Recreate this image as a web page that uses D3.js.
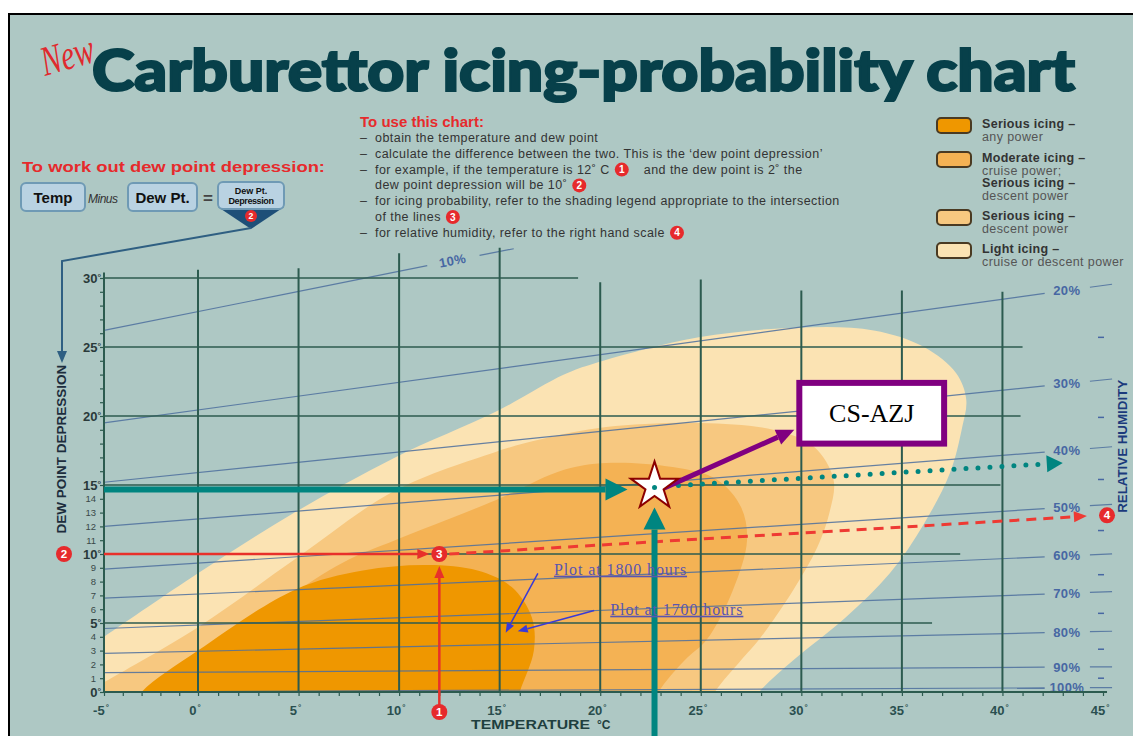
<!DOCTYPE html>
<html>
<head>
<meta charset="utf-8">
<script src="https://d3js.org/d3.v7.min.js"></script>
<style>
  body { margin: 0; background: #fff; }
  svg { display: block; }
  text { font-family: "Liberation Sans", Arial, sans-serif; }
</style>
</head>
<body>
<div id="chart"></div>
<script>
// axis values
var xTicks = [-5, 0, 5, 10, 15, 20, 25, 30, 35, 40, 45];
var yMajor = [0, 5, 10, 15, 20, 25, 30];
var yMinor = [1, 2, 3, 4, 6, 7, 8, 9, 11, 12, 13, 14];
var vGrid = [0, 5, 10, 15, 20, 25, 30, 35, 40];
var vGridTop = [30.6, 30.7, 31.8, 32.2, 29.7, 29.9, 29.1, 29.1, 29.0];
var hGridEnd = [45.2, 36.5, 37.9, 39.9, 40.9, 41.0, 18.9];

// relative humidity lines: dew point depression at -5C and at ~42C
var rhLabels = ["10%", "20%", "30%", "40%", "50%", "60%", "70%", "80%", "90%", "100%"];
var rhLeft  = [26.2, 19.5, 15.2, 12.0, 8.9, 6.8, 4.6, 2.8, 1.4, 0.0];
var rhRight = [39.7, 28.9, 22.2, 17.4, 13.3, 9.8, 7.1, 4.3, 1.8, 0.3];
var rhMinor = [25.7, 19.9, 15.4, 11.7, 8.5, 5.7, 3.1, 1.0];

// icing zones [temperature, dew point depression]
var lightIcing = [[-7,-2],[-7,2.2],[-5,4.0],[0,8.6],[4.8,13.0],[9.8,17.0],[14.8,20.3],[18.2,23.0],[19.7,23.8],[24.9,25.7],[29.8,26.4],[33.6,26.2],[36.1,25.0],[37.7,23.1],[38.2,21.2],[38.0,19.2],[37.4,15.9],[36.1,12.2],[34.4,8.6],[32.2,5.4],[29.6,2.3],[27.9,0],[27.0,-2]];
var seriousDescent = [[-7,-2],[-7,-0.9],[-5,0.7],[0,4.7],[4.8,9.6],[9.8,14.6],[14.8,17.4],[17.0,18.3],[20.3,19.2],[25.0,19.5],[28.6,19.0],[30.6,17.8],[31.6,15.4],[31.4,13.0],[30.8,10.5],[29.6,7.4],[27.9,3.8],[27.0,2.3],[25.7,0],[25.0,-2]];
var moderateCruise = [[-2.5,-2],[0,2.0],[4.8,7.2],[7.5,9.6],[9.8,11.0],[14.8,13.9],[18.2,16.1],[20.3,16.6],[23.6,16.3],[25.8,15.4],[27.0,13.4],[27.3,11.0],[26.6,7.4],[25.3,3.8],[24.2,2.3],[22.9,0],[22.3,-2]];
var seriousAny = [[-4.0,-2],[-3.0,0],[0,3.0],[4.8,7.4],[8.2,8.8],[11.4,9.2],[13.9,8.8],[15.6,7.6],[16.6,5.4],[16.7,3.0],[16.0,0],[15.6,-2]];

var zoneColors = ["#fbe3b3", "#f7c880", "#f4b254", "#ef9700"];

var legendColors = ["#ef9700", "#f4b254", "#f7c880", "#fbe3b3"];
var legendTop = [118, 152, 210, 243];
var legendText = [
  [["Serious icing \u2013", 1], ["any power", 0]],
  [["Moderate icing \u2013", 1], ["cruise power;", 0], ["Serious icing \u2013", 1], ["descent power", 0]],
  [["Serious icing \u2013", 1], ["descent power", 0]],
  [["Light icing \u2013", 1], ["cruise or descent power", 0]]
];

var howTo = [
  [true, ["obtain the temperature and dew point"]],
  [true, ["calculate the difference between the two. This is the \u2018dew point depression\u2019"]],
  [true, ["for example, if the temperature is 12\u02da C", 1, "and the dew point is 2\u02da the"]],
  [false, ["dew point depression will be 10\u02da", 2]],
  [true, ["for icing probability, refer to the shading legend appropriate to the intersection"]],
  [false, ["of the lines", 3]],
  [true, ["for relative humidity, refer to the right hand scale", 4]]
];

// worked example and plotted point
var exTemp = 12, exDep = 10, exEnd = [44.2, 12.75];
var starT = 22.7, starD = 14.9, dotEnd = [43.0, 16.6];
var boxT = [29.9, 37.1], boxD = [22.4, 18.0];

var width = 1133, height = 736;
var svg = d3.select("#chart").append("svg")
    .attr("width", width)
    .attr("height", height);

svg.append("rect")
    .attr("x", 9).attr("y", 14)
    .attr("width", 1130).attr("height", 730)
    .attr("fill", "#aec8c4")
    .attr("stroke", "#000").attr("stroke-width", 2);

var x = d3.scaleLinear().domain([-5, 0, 45]).range([104, 198, 1103]);
var y = d3.scaleLinear().domain([0, 30]).range([692, 278]);

function arrow(g, p0, p1, color, w, len, wid, dash) {
  var dx = p1[0] - p0[0], dy = p1[1] - p0[1], L = Math.hypot(dx, dy);
  var ux = dx / L, uy = dy / L;
  var bx = p1[0] - ux * len, by = p1[1] - uy * len;
  var ln = g.append("line")
      .attr("x1", p0[0]).attr("y1", p0[1]).attr("x2", bx).attr("y2", by)
      .attr("stroke", color).attr("stroke-width", w);
  if (dash) ln.attr("stroke-dasharray", dash).attr("stroke-linecap", dash[0] == "0" ? "round" : "butt");
  g.append("path")
      .attr("d", "M" + p1[0] + "," + p1[1] +
                 "L" + (bx - uy * wid / 2) + "," + (by + ux * wid / 2) +
                 "L" + (bx + uy * wid / 2) + "," + (by - ux * wid / 2) + "Z")
      .attr("fill", color);
}

function badge(g, cx, cy, r, n) {
  g.append("circle").attr("cx", cx).attr("cy", cy).attr("r", r).attr("fill", "#e62a2c");
  g.append("text").attr("x", cx).attr("y", cy + r * 0.5)
      .attr("text-anchor", "middle").attr("font-weight", "bold")
      .attr("font-size", r * 1.45).attr("fill", "#fff").text(n);
}

// title
svg.append("text")
    .attr("x", 92).attr("y", 91)
    .attr("textLength", 983).attr("lengthAdjust", "spacingAndGlyphs")
    .style("font-family", "Lato, 'DejaVu Sans', sans-serif")
    .attr("font-weight", 900).attr("font-size", 58)
    .attr("fill", "#07404a").attr("stroke", "#07404a").attr("stroke-width", 2.2)
    .text("Carburettor icing-probability chart");
svg.append("text")
    .attr("transform", "translate(45,76) rotate(-16)")
    .attr("textLength", 54).attr("lengthAdjust", "spacingAndGlyphs")
    .style("font-family", "'Liberation Serif', serif")
    .attr("font-style", "italic").attr("font-size", 42)
    .attr("fill", "#e02a2e")
    .text("New");

// dew point depression recipe
var rec = svg.append("g");
rec.append("text").attr("x", 22).attr("y", 172)
    .attr("textLength", 303).attr("lengthAdjust", "spacingAndGlyphs")
    .attr("font-weight", "bold").attr("font-size", 14).attr("fill", "#e62a2c")
    .text("To work out dew point depression:");
[[21, 64, "Temp"], [128, 69, "Dew Pt."]].forEach(function(b) {
  rec.append("rect").attr("x", b[0]).attr("y", 183).attr("width", b[1]).attr("height", 28)
      .attr("rx", 5).attr("fill", "#b9d2e2").attr("stroke", "#6f9ab5").attr("stroke-width", 2);
  rec.append("text").attr("x", b[0] + b[1] / 2).attr("y", 203).attr("text-anchor", "middle")
      .attr("font-weight", "bold").attr("font-size", 15).attr("fill", "#111").text(b[2]);
});
rec.append("text").attr("x", 88).attr("y", 203).attr("font-style", "italic")
    .attr("font-size", 12).attr("fill", "#333").attr("letter-spacing", -0.5).text("Minus");
rec.append("text").attr("x", 203).attr("y", 204).attr("font-weight", "bold")
    .attr("font-size", 17).attr("fill", "#444").text("=");
rec.append("path").attr("d", "M218,207L284,207L251,229Z").attr("fill", "#1e4f78");
rec.append("rect").attr("x", 218).attr("y", 182).attr("width", 66).attr("height", 27)
    .attr("rx", 5).attr("fill", "#b9d2e2").attr("stroke", "#6f9ab5").attr("stroke-width", 2);
rec.append("text").attr("x", 251).attr("y", 194).attr("text-anchor", "middle")
    .attr("font-weight", "bold").attr("font-size", 9).attr("fill", "#111").text("Dew Pt.");
rec.append("text").attr("x", 251).attr("y", 204).attr("text-anchor", "middle")
    .attr("font-weight", "bold").attr("font-size", 9).attr("letter-spacing", -0.4).attr("fill", "#111").text("Depression");
badge(rec, 251, 216, 6, 2);
rec.append("path").attr("d", "M251,228L62,261L62,352")
    .attr("fill", "none").attr("stroke", "#2f5f82").attr("stroke-width", 2);
arrow(rec, [62, 350], [62, 363], "#2f5f82", 2, 12, 10);

// how to use
var use = svg.append("g");
use.append("text").attr("x", 360).attr("y", 127)
    .attr("font-weight", "bold").attr("font-size", 15).attr("fill", "#e62a2c")
    .text("To use this chart:");
howTo.forEach(function(line, i) {
  var yy = 142 + i * 15.8, xx = 375;
  if (line[0]) use.append("text").attr("x", 360).attr("y", yy).attr("font-size", 12.5).attr("fill", "#333").text("\u2013");
  line[1].forEach(function(part) {
    if (typeof part === "number") {
      badge(use, xx + 12, yy - 4, 7, part);
      xx += 34;
    } else {
      var t = use.append("text").attr("x", xx).attr("y", yy)
          .attr("font-size", 12.5).attr("letter-spacing", 0.45)
          .attr("fill", "#333").text(part);
      xx += t.node().getComputedTextLength();
    }
  });
});

// legend
var leg = svg.append("g");
legendColors.forEach(function(c, i) {
  leg.append("rect").attr("x", 937).attr("y", legendTop[i]).attr("width", 34).attr("height", 15)
      .attr("rx", 4).attr("fill", c).attr("stroke", "#4a3a22").attr("stroke-width", 2);
  legendText[i].forEach(function(l, j) {
    leg.append("text").attr("x", 982).attr("y", legendTop[i] + 10 + j * 12.5)
        .attr("font-size", 12.5)
        .attr("letter-spacing", l[1] ? 0.3 : 0.4)
        .attr("font-weight", l[1] ? "bold" : "normal")
        .attr("fill", l[1] ? "#333" : "#555")
        .text(l[0]);
  });
});

// icing zones
svg.append("clipPath").attr("id", "plotclip")
  .append("rect").attr("x", x(-5)).attr("y", 230).attr("width", x(45.2) - x(-5)).attr("height", y(0) - 230);

var zone = d3.line()
    .x(function(d) { return x(d[0]); })
    .y(function(d) { return y(d[1]); })
    .curve(d3.curveCatmullRom.alpha(0.5));

svg.append("g").attr("clip-path", "url(#plotclip)")
  .selectAll("path")
  .data([lightIcing, seriousDescent, moderateCruise, seriousAny])
  .enter().append("path")
    .attr("d", function(d) { return zone(d) + "Z"; })
    .attr("fill", function(d, i) { return zoneColors[i]; });

// relative humidity lines
var rh = svg.append("g");
function rhD(i, t) { return rhLeft[i] + (rhRight[i] - rhLeft[i]) * (t + 5) / 47.2; }
rhLabels.forEach(function(lab, i) {
  var segs = i === 0 ? [[-5, 11.4], [14.0, 15.7]] : [[-5, 42.1], [44.35, 45.45]];
  segs.forEach(function(s) {
    rh.append("line")
        .attr("x1", x(s[0])).attr("y1", y(rhD(i, s[0])))
        .attr("x2", x(s[1])).attr("y2", y(rhD(i, s[1])))
        .attr("stroke", "#4d6f9e").attr("stroke-width", 1.2).attr("opacity", 0.85);
  });
  var lt = i === 0 ? 12.7 : 43.2;
  var ang = i === 0 ? Math.atan2(y(rhD(0, 15)) - y(rhD(0, 5)), x(15) - x(5)) * 180 / Math.PI : 0;
  rh.append("text")
      .attr("transform", "translate(" + x(lt) + "," + (y(rhD(i, lt)) + 4.5) + ") rotate(" + ang + ")")
      .attr("text-anchor", "middle")
      .attr("font-size", 13).attr("font-weight", "bold").attr("letter-spacing", 0.4)
      .attr("fill", "#4767a3")
      .text(lab);
});
rh.selectAll(".rhminor").data(rhMinor).enter().append("line")
    .attr("x1", 1098).attr("x2", 1104)
    .attr("y1", function(d) { return y(d); }).attr("y2", function(d) { return y(d); })
    .attr("stroke", "#4767a3").attr("stroke-width", 1.5);
svg.append("text")
    .attr("transform", "translate(1127," + y(17.8) + ") rotate(-90)")
    .attr("text-anchor", "middle")
    .attr("textLength", 133).attr("lengthAdjust", "spacingAndGlyphs")
    .attr("font-weight", "bold").attr("font-size", 12).attr("fill", "#1b3a7c")
    .text("RELATIVE HUMIDITY");

// grid
var grid = svg.append("g").attr("stroke", "#2c5b4f");
grid.selectAll(".vg").data(vGrid).enter().append("line")
    .attr("x1", function(d) { return x(d); }).attr("x2", function(d) { return x(d); })
    .attr("y1", y(0))
    .attr("y2", function(d, i) { return y(vGridTop[i]); })
    .attr("stroke-width", 2);
grid.selectAll(".hg").data(yMajor).enter().append("line")
    .attr("x1", x(-5))
    .attr("x2", function(d, i) { return x(hGridEnd[i]); })
    .attr("y1", function(d) { return y(d); }).attr("y2", function(d) { return y(d); })
    .attr("stroke-width", function(d) { return d === 0 ? 2.2 : 1.6; });
grid.append("line").attr("x1", x(-5)).attr("x2", x(-5)).attr("y1", y(0)).attr("y2", y(30.4))
    .attr("stroke-width", 2);

// axes
var xAxis = d3.axisBottom(x).tickValues(d3.range(-5, 46)).tickSize(4).tickFormat("");
svg.append("g").attr("transform", "translate(0," + y(0) + ")").call(xAxis)
    .call(function(g) { g.select(".domain").remove(); g.selectAll("line").attr("stroke", "#2c5b4f").attr("stroke-width", 1.2); });
var yAxis = d3.axisLeft(y).tickValues(d3.range(0, 31)).tickSize(4).tickFormat("");
svg.append("g").attr("transform", "translate(" + x(-5) + ",0)").call(yAxis)
    .call(function(g) { g.select(".domain").remove(); g.selectAll("line").attr("stroke", "#2c5b4f").attr("stroke-width", 1.2); });

var xl = svg.append("g").selectAll("text").data(xTicks).enter().append("text")
    .attr("x", function(d) { return x(d) - 3; }).attr("y", 715)
    .attr("text-anchor", "middle")
    .attr("font-weight", "bold").attr("font-size", 13).attr("fill", "#2a4f4f")
    .text(function(d) { return d; });
xl.append("tspan").attr("font-size", 8).attr("dx", 1).attr("dy", -5).text("\u00b0");

var yl = svg.append("g").selectAll("text").data(yMajor).enter().append("text")
    .attr("x", 101).attr("y", function(d) { return y(d) + 5; })
    .attr("text-anchor", "end")
    .attr("font-weight", "bold").attr("font-size", 13).attr("fill", "#2a3a3a")
    .text(function(d) { return d; });
yl.append("tspan").attr("font-size", 9).attr("dy", -3).text("\u00b0");
svg.append("g").selectAll("text").data(yMinor).enter().append("text")
    .attr("x", 96).attr("y", function(d) { return y(d) + 3.5; })
    .attr("text-anchor", "end")
    .attr("font-size", 9.5).attr("fill", "#3a4848")
    .text(function(d) { return d; });

svg.append("text")
    .attr("transform", "translate(66," + y(17.6) + ") rotate(-90)")
    .attr("text-anchor", "middle")
    .attr("textLength", 169).attr("lengthAdjust", "spacingAndGlyphs")
    .attr("font-weight", "bold").attr("font-size", 13).attr("fill", "#1d2d3d")
    .text("DEW POINT DEPRESSION");
svg.append("text").attr("x", 471).attr("y", 729)
    .attr("textLength", 119).attr("lengthAdjust", "spacingAndGlyphs")
    .attr("font-weight", "bold").attr("font-size", 12).attr("fill", "#1f3f3f")
    .text("TEMPERATURE");
svg.append("text").attr("x", 597).attr("y", 729)
    .attr("font-weight", "bold").attr("font-size", 12).attr("fill", "#1f3f3f")
    .text("\u00b0C");

// worked example (red)
var ex = svg.append("g");
arrow(ex, [x(-5), y(exDep)], [x(exTemp) - 10, y(exDep)], "#e8302a", 2.5, 12, 10);
arrow(ex, [x(exTemp), y(0) + 14], [x(exTemp), y(exDep) + 12], "#e8302a", 2.5, 12, 10);
arrow(ex, [x(exTemp) + 10, y(exDep)], [x(exEnd[0]), y(exEnd[1])], "#ee3a33", 3, 13, 11, "10,7");
badge(ex, x(exTemp), y(exDep), 8, 3);
badge(ex, x(exTemp), y(0) + 20, 8, 1);
badge(ex, 64, y(exDep), 8, 2);
badge(ex, x(45.2), y(12.8), 8, 4);

// plotted point (teal)
var pt = svg.append("g");
arrow(pt, [x(-5), y(starD) + 3], [x(starT) - 27, y(starD) + 3], "#008580", 6, 22, 22);
arrow(pt, [x(starT), 736], [x(starT), y(starD) + 21], "#008580", 6, 22, 22);
arrow(pt, [x(starT), y(starD) + 0.5], [x(dotEnd[0]), y(dotEnd[1])], "#008580", 5, 16, 17, "0,12");
arrow(pt, [x(starT) + 2, y(starD) + 5], [x(boxT[0]) - 5, y(19.0)], "#800080", 5, 18, 16);
pt.append("path")
    .attr("transform", "translate(" + x(starT) + "," + y(starD) + ")")
    .attr("d", d3.symbol(d3.symbolStar).size(700)())
    .attr("fill", "#fff").attr("stroke", "#8b0000").attr("stroke-width", 2);
pt.append("circle").attr("cx", x(starT)).attr("cy", y(starD) + 1).attr("r", 2.5).attr("fill", "#008580");
pt.append("rect")
    .attr("x", x(boxT[0])).attr("y", y(boxD[0]))
    .attr("width", x(boxT[1]) - x(boxT[0])).attr("height", y(boxD[1]) - y(boxD[0]))
    .attr("fill", "#fff").attr("stroke", "#800080").attr("stroke-width", 6);
pt.append("text")
    .attr("x", (x(boxT[0]) + x(boxT[1])) / 2).attr("y", (y(boxD[0]) + y(boxD[1])) / 2 + 9)
    .attr("text-anchor", "middle")
    .style("font-family", "'Liberation Serif', serif")
    .attr("font-size", 26).attr("fill", "#000")
    .text("CS-AZJ");

// plot notes
var notes = svg.append("g");
[["Plot at 1800 hours", 17.7, 8.5, [16.9, 8.6], [15.3, 4.3]],
 ["Plot at 1700 hours", 20.5, 5.6, [19.7, 5.9], [15.9, 4.4]]].forEach(function(n) {
  notes.append("text").attr("x", x(n[1])).attr("y", y(n[2]))
      .style("font-family", "'Liberation Serif', serif")
      .attr("font-size", 16).attr("letter-spacing", 0.9).attr("fill", "#5a55b0")
      .attr("text-decoration", "underline")
      .text(n[0]);
  arrow(notes, [x(n[3][0]), y(n[3][1])], [x(n[4][0]), y(n[4][1])], "#3a3ad6", 1.5, 10, 8);
});
</script>
</body>
</html>
